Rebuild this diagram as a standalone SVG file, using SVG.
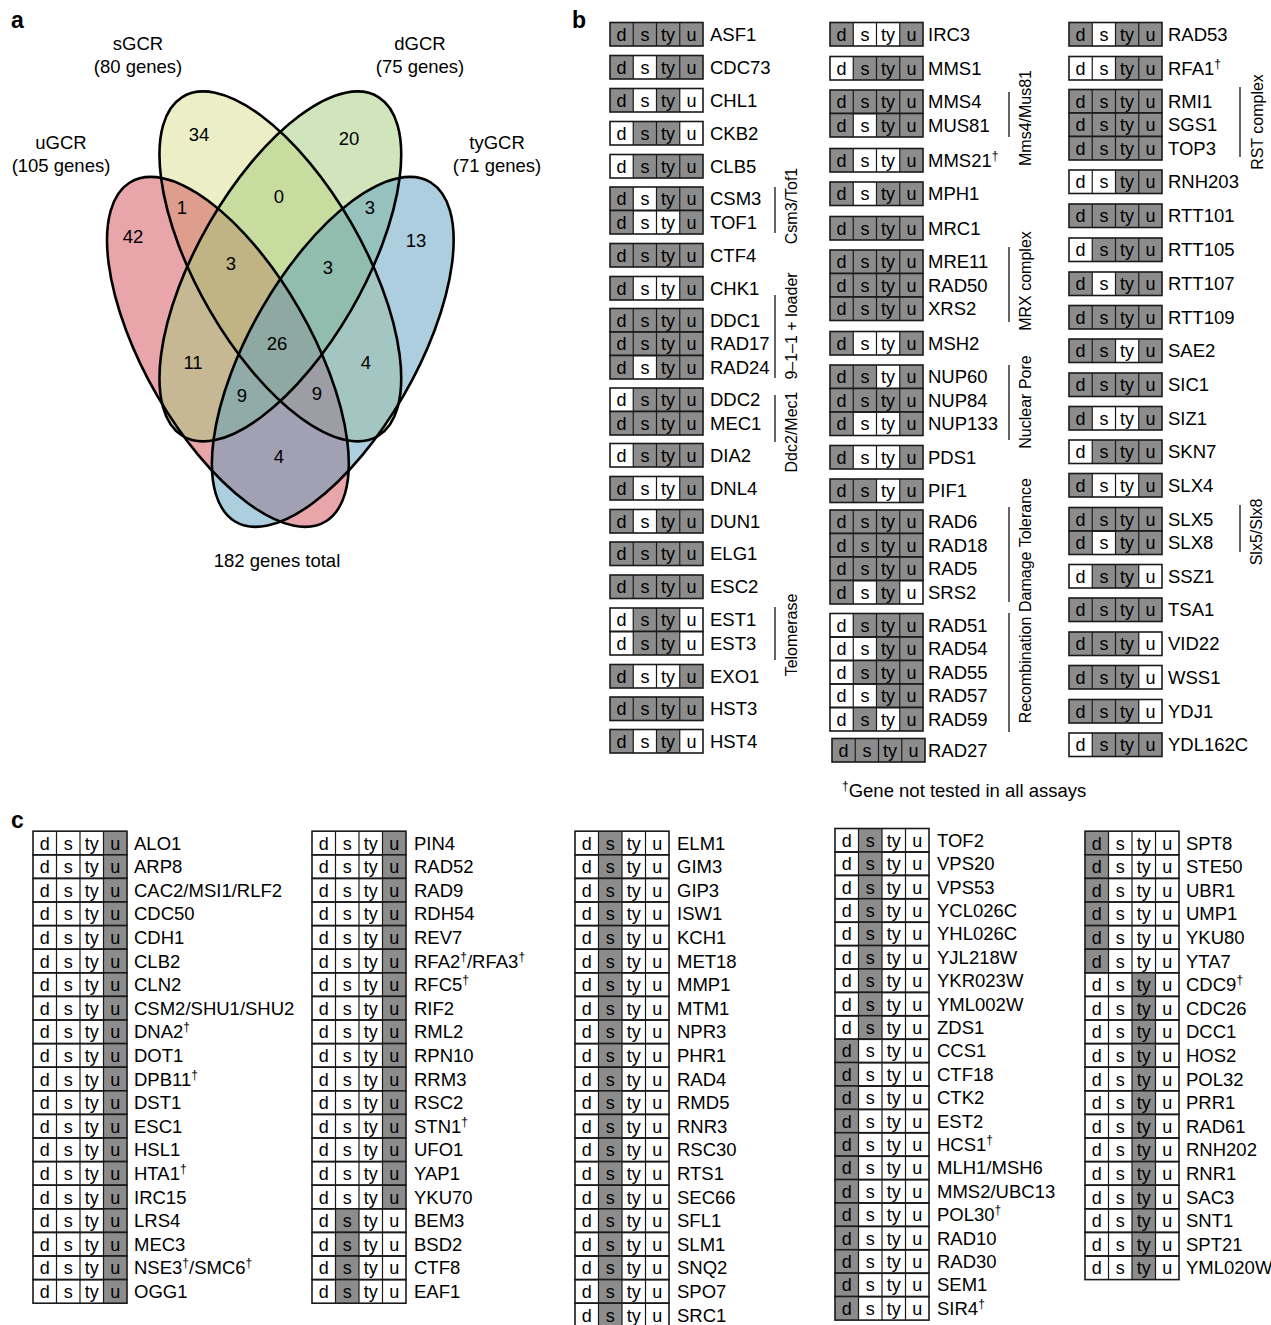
<svg xmlns="http://www.w3.org/2000/svg" xmlns:xlink="http://www.w3.org/1999/xlink" width="1271" height="1325" viewBox="0 0 1271 1325">
<style>
text{font-family:"Liberation Sans",Arial,Helvetica,sans-serif;fill:#000}
.t{font-size:18.5px}
.c{font-size:18px;text-anchor:middle}
.dg{font-size:12px}
.bx{fill:none;stroke:#1a1a1a;stroke-width:1.6}
.ln{stroke:#1a1a1a;stroke-width:1.2;fill:none}
.sh{fill:#8c8c8c}
.br{stroke:#333;stroke-width:1.5;fill:none}
.lab{font-size:16px;text-anchor:middle}
.pl{font-weight:bold;font-size:23px}
.n{text-anchor:middle;font-size:18.5px}
.vo{fill:none;stroke:#000;stroke-width:2.6}
</style>
<defs>
<g id="rb">
<rect class="bx" x="0" y="0" width="93" height="23.5"/>
<path class="ln" d="M23.25 0V23.5M46.5 0V23.5M69.75 0V23.5"/>
<text class="c" x="11.6" y="18.3">d</text><text class="c" x="34.9" y="18.3">s</text><text class="c" x="58.1" y="18.3">ty</text><text class="c" x="81.4" y="18.3">u</text>
</g>
<rect id="b0" class="sh" x="0" y="0" width="23.25" height="23.5"/>
<rect id="b1" class="sh" x="23.25" y="0" width="23.25" height="23.5"/>
<rect id="b2" class="sh" x="46.5" y="0" width="23.25" height="23.5"/>
<rect id="b3" class="sh" x="69.75" y="0" width="23.25" height="23.5"/>
<g id="rc">
<rect class="bx" x="0" y="0" width="94" height="23.6"/>
<path class="ln" d="M23.5 0V23.6M47 0V23.6M70.5 0V23.6"/>
<text class="c" x="11.75" y="18.4">d</text><text class="c" x="35.25" y="18.4">s</text><text class="c" x="58.75" y="18.4">ty</text><text class="c" x="82.25" y="18.4">u</text>
</g>
<rect id="c0" class="sh" x="0" y="0" width="23.5" height="23.6"/>
<rect id="c1" class="sh" x="23.5" y="0" width="23.5" height="23.6"/>
<rect id="c2" class="sh" x="47" y="0" width="23.5" height="23.6"/>
<rect id="c3" class="sh" x="70.5" y="0" width="23.5" height="23.6"/>
</defs>
<rect width="1271" height="1325" fill="#fff"/>

<text class="pl" x="11" y="28">a</text>
<text class="pl" x="572" y="28">b</text>
<text class="pl" x="11" y="828">c</text>

<!-- Panel a: Venn -->
<g id="venn">
<g transform="matrix(1.07 0 0 1.11 0 0)">
<g id="set-sGCR-fill"><ellipse cx="262" cy="240" rx="178" ry="77" transform="rotate(59 262 240)" fill="#D9DF8D" fill-opacity="0.5"/></g>
<g id="set-uGCR-fill"><ellipse cx="213" cy="317" rx="178" ry="77" transform="rotate(59 213 317)" fill="#D14B55" fill-opacity="0.5"/></g>
<g id="set-dGCR-fill"><ellipse cx="262" cy="240" rx="178" ry="77" transform="rotate(-59 262 240)" fill="#A1CB79" fill-opacity="0.5"/></g>
<g id="set-tyGCR-fill"><ellipse cx="311" cy="317" rx="178" ry="77" transform="rotate(-59 311 317)" fill="#5B9DBD" fill-opacity="0.5"/></g>
<g id="outlines">
<ellipse class="vo" vector-effect="non-scaling-stroke" cx="262" cy="240" rx="178" ry="77" transform="rotate(59 262 240)"/>
<ellipse class="vo" vector-effect="non-scaling-stroke" cx="213" cy="317" rx="178" ry="77" transform="rotate(59 213 317)"/>
<ellipse class="vo" vector-effect="non-scaling-stroke" cx="262" cy="240" rx="178" ry="77" transform="rotate(-59 262 240)"/>
<ellipse class="vo" vector-effect="non-scaling-stroke" cx="311" cy="317" rx="178" ry="77" transform="rotate(-59 311 317)"/>
</g>
</g>
<g id="venn-labels">
<text class="n" x="138" y="50">sGCR</text><text class="n" x="138" y="73">(80 genes)</text>
<text class="n" x="420" y="50">dGCR</text><text class="n" x="420" y="73">(75 genes)</text>
<text class="n" x="61" y="149">uGCR</text><text class="n" x="61" y="172">(105 genes)</text>
<text class="n" x="497" y="149">tyGCR</text><text class="n" x="497" y="172">(71 genes)</text>
<text class="n" x="199" y="141">34</text>
<text class="n" x="349" y="145">20</text>
<text class="n" x="133" y="243">42</text>
<text class="n" x="182" y="214">1</text>
<text class="n" x="279" y="203">0</text>
<text class="n" x="370" y="214">3</text>
<text class="n" x="416" y="247">13</text>
<text class="n" x="231" y="270">3</text>
<text class="n" x="328" y="274">3</text>
<text class="n" x="277" y="350">26</text>
<text class="n" x="193" y="369">11</text>
<text class="n" x="366" y="369">4</text>
<text class="n" x="242" y="402">9</text>
<text class="n" x="317" y="400">9</text>
<text class="n" x="279" y="463">4</text>
<text class="n" x="277" y="567">182 genes total</text>
</g>
</g>

<!-- Panel b -->
<g id="panel-b">
<g id="b-col1">
<g id="ASF1" transform="translate(610,22.5)"><use href="#b0"/><use href="#b1"/><use href="#b2"/><use href="#b3"/><use href="#rb"/><text class="t" x="100" y="18.3">ASF1</text></g>
<g id="CDC73" transform="translate(610,55.5)"><use href="#b0"/><use href="#b2"/><use href="#b3"/><use href="#rb"/><text class="t" x="100" y="18.3">CDC73</text></g>
<g id="CHL1" transform="translate(610,88.5)"><use href="#b0"/><use href="#b2"/><use href="#rb"/><text class="t" x="100" y="18.3">CHL1</text></g>
<g id="CKB2" transform="translate(610,121.5)"><use href="#b1"/><use href="#b2"/><use href="#rb"/><text class="t" x="100" y="18.3">CKB2</text></g>
<g id="CLB5" transform="translate(610,154.5)"><use href="#b1"/><use href="#b2"/><use href="#b3"/><use href="#rb"/><text class="t" x="100" y="18.3">CLB5</text></g>
<g id="CSM3" transform="translate(610,187)"><use href="#b0"/><use href="#b2"/><use href="#b3"/><use href="#rb"/><text class="t" x="100" y="18.3">CSM3</text></g>
<g id="TOF1" transform="translate(610,210.5)"><use href="#b0"/><use href="#b3"/><use href="#rb"/><text class="t" x="100" y="18.3">TOF1</text></g>
<g id="CTF4" transform="translate(610,243.5)"><use href="#b0"/><use href="#b1"/><use href="#b2"/><use href="#b3"/><use href="#rb"/><text class="t" x="100" y="18.3">CTF4</text></g>
<g id="CHK1" transform="translate(610,276.5)"><use href="#b0"/><use href="#b3"/><use href="#rb"/><text class="t" x="100" y="18.3">CHK1</text></g>
<g id="DDC1" transform="translate(610,308.5)"><use href="#b0"/><use href="#b1"/><use href="#b2"/><use href="#b3"/><use href="#rb"/><text class="t" x="100" y="18.3">DDC1</text></g>
<g id="RAD17" transform="translate(610,332)"><use href="#b0"/><use href="#b1"/><use href="#b2"/><use href="#b3"/><use href="#rb"/><text class="t" x="100" y="18.3">RAD17</text></g>
<g id="RAD24" transform="translate(610,355.5)"><use href="#b0"/><use href="#b2"/><use href="#b3"/><use href="#rb"/><text class="t" x="100" y="18.3">RAD24</text></g>
<g id="DDC2" transform="translate(610,388)"><use href="#b1"/><use href="#b2"/><use href="#b3"/><use href="#rb"/><text class="t" x="100" y="18.3">DDC2</text></g>
<g id="MEC1" transform="translate(610,411.5)"><use href="#b0"/><use href="#b1"/><use href="#b2"/><use href="#b3"/><use href="#rb"/><text class="t" x="100" y="18.3">MEC1</text></g>
<g id="DIA2" transform="translate(610,443.5)"><use href="#b1"/><use href="#b2"/><use href="#b3"/><use href="#rb"/><text class="t" x="100" y="18.3">DIA2</text></g>
<g id="DNL4" transform="translate(610,476.5)"><use href="#b0"/><use href="#b3"/><use href="#rb"/><text class="t" x="100" y="18.3">DNL4</text></g>
<g id="DUN1" transform="translate(610,509.5)"><use href="#b0"/><use href="#b2"/><use href="#b3"/><use href="#rb"/><text class="t" x="100" y="18.3">DUN1</text></g>
<g id="ELG1" transform="translate(610,542)"><use href="#b0"/><use href="#b1"/><use href="#b2"/><use href="#b3"/><use href="#rb"/><text class="t" x="100" y="18.3">ELG1</text></g>
<g id="ESC2" transform="translate(610,575)"><use href="#b0"/><use href="#b1"/><use href="#b2"/><use href="#b3"/><use href="#rb"/><text class="t" x="100" y="18.3">ESC2</text></g>
<g id="EST1" transform="translate(610,608)"><use href="#b1"/><use href="#b2"/><use href="#rb"/><text class="t" x="100" y="18.3">EST1</text></g>
<g id="EST3" transform="translate(610,631.5)"><use href="#b1"/><use href="#b2"/><use href="#rb"/><text class="t" x="100" y="18.3">EST3</text></g>
<g id="EXO1" transform="translate(610,664.5)"><use href="#b0"/><use href="#b3"/><use href="#rb"/><text class="t" x="100" y="18.3">EXO1</text></g>
<g id="HST3" transform="translate(610,697)"><use href="#b0"/><use href="#b1"/><use href="#b2"/><use href="#b3"/><use href="#rb"/><text class="t" x="100" y="18.3">HST3</text></g>
<g id="HST4" transform="translate(610,729.5)"><use href="#b0"/><use href="#b2"/><use href="#rb"/><text class="t" x="100" y="18.3">HST4</text></g>
</g>
<g id="b-col2">
<g id="IRC3" transform="translate(830,22.5)"><use href="#b0"/><use href="#b3"/><use href="#rb"/><text class="t" x="98" y="18.3">IRC3</text></g>
<g id="MMS1" transform="translate(830,56.5)"><use href="#b1"/><use href="#b2"/><use href="#b3"/><use href="#rb"/><text class="t" x="98" y="18.3">MMS1</text></g>
<g id="MMS4" transform="translate(830,90)"><use href="#b0"/><use href="#b1"/><use href="#b2"/><use href="#b3"/><use href="#rb"/><text class="t" x="98" y="18.3">MMS4</text></g>
<g id="MUS81" transform="translate(830,113.5)"><use href="#b0"/><use href="#b2"/><use href="#b3"/><use href="#rb"/><text class="t" x="98" y="18.3">MUS81</text></g>
<g id="MMS21" transform="translate(830,148.5)"><use href="#b0"/><use href="#b3"/><use href="#rb"/><text class="t" x="98" y="18.3">MMS21<tspan class="dg" dy="-7">†</tspan></text></g>
<g id="MPH1" transform="translate(830,182)"><use href="#b0"/><use href="#b2"/><use href="#b3"/><use href="#rb"/><text class="t" x="98" y="18.3">MPH1</text></g>
<g id="MRC1" transform="translate(830,216.5)"><use href="#b0"/><use href="#b1"/><use href="#b2"/><use href="#b3"/><use href="#rb"/><text class="t" x="98" y="18.3">MRC1</text></g>
<g id="MRE11" transform="translate(830,250)"><use href="#b0"/><use href="#b1"/><use href="#b2"/><use href="#b3"/><use href="#rb"/><text class="t" x="98" y="18.3">MRE11</text></g>
<g id="RAD50" transform="translate(830,273.5)"><use href="#b0"/><use href="#b1"/><use href="#b2"/><use href="#b3"/><use href="#rb"/><text class="t" x="98" y="18.3">RAD50</text></g>
<g id="XRS2" transform="translate(830,297)"><use href="#b0"/><use href="#b1"/><use href="#b2"/><use href="#b3"/><use href="#rb"/><text class="t" x="98" y="18.3">XRS2</text></g>
<g id="MSH2" transform="translate(830,331.5)"><use href="#b0"/><use href="#b3"/><use href="#rb"/><text class="t" x="98" y="18.3">MSH2</text></g>
<g id="NUP60" transform="translate(830,365)"><use href="#b0"/><use href="#b1"/><use href="#b3"/><use href="#rb"/><text class="t" x="98" y="18.3">NUP60</text></g>
<g id="NUP84" transform="translate(830,388.5)"><use href="#b0"/><use href="#b1"/><use href="#b2"/><use href="#b3"/><use href="#rb"/><text class="t" x="98" y="18.3">NUP84</text></g>
<g id="NUP133" transform="translate(830,412)"><use href="#b0"/><use href="#b3"/><use href="#rb"/><text class="t" x="98" y="18.3">NUP133</text></g>
<g id="PDS1" transform="translate(830,445.5)"><use href="#b0"/><use href="#b3"/><use href="#rb"/><text class="t" x="98" y="18.3">PDS1</text></g>
<g id="PIF1" transform="translate(830,479)"><use href="#b0"/><use href="#b1"/><use href="#b3"/><use href="#rb"/><text class="t" x="98" y="18.3">PIF1</text></g>
<g id="RAD6" transform="translate(830,510)"><use href="#b0"/><use href="#b1"/><use href="#b2"/><use href="#b3"/><use href="#rb"/><text class="t" x="98" y="18.3">RAD6</text></g>
<g id="RAD18" transform="translate(830,533.5)"><use href="#b0"/><use href="#b1"/><use href="#b2"/><use href="#b3"/><use href="#rb"/><text class="t" x="98" y="18.3">RAD18</text></g>
<g id="RAD5" transform="translate(830,557)"><use href="#b0"/><use href="#b1"/><use href="#b2"/><use href="#b3"/><use href="#rb"/><text class="t" x="98" y="18.3">RAD5</text></g>
<g id="SRS2" transform="translate(830,580.5)"><use href="#b0"/><use href="#b2"/><use href="#rb"/><text class="t" x="98" y="18.3">SRS2</text></g>
<g id="RAD51" transform="translate(830,613.5)"><use href="#b1"/><use href="#b2"/><use href="#b3"/><use href="#rb"/><text class="t" x="98" y="18.3">RAD51</text></g>
<g id="RAD54" transform="translate(830,637)"><use href="#b2"/><use href="#b3"/><use href="#rb"/><text class="t" x="98" y="18.3">RAD54</text></g>
<g id="RAD55" transform="translate(830,660.5)"><use href="#b1"/><use href="#b2"/><use href="#b3"/><use href="#rb"/><text class="t" x="98" y="18.3">RAD55</text></g>
<g id="RAD57" transform="translate(830,684)"><use href="#b2"/><use href="#b3"/><use href="#rb"/><text class="t" x="98" y="18.3">RAD57</text></g>
<g id="RAD59" transform="translate(830,707.5)"><use href="#b1"/><use href="#b3"/><use href="#rb"/><text class="t" x="98" y="18.3">RAD59</text></g>
<g id="RAD27" transform="translate(832,738.5)"><use href="#b0"/><use href="#b1"/><use href="#b2"/><use href="#b3"/><use href="#rb"/><text class="t" x="96" y="18.3">RAD27</text></g>
</g>
<g id="b-col3">
<g id="RAD53" transform="translate(1069,22.5)"><use href="#b0"/><use href="#b2"/><use href="#b3"/><use href="#rb"/><text class="t" x="99" y="18.3">RAD53</text></g>
<g id="RFA1" transform="translate(1069,56.5)"><use href="#b2"/><use href="#b3"/><use href="#rb"/><text class="t" x="99" y="18.3">RFA1<tspan class="dg" dy="-7">†</tspan></text></g>
<g id="RMI1" transform="translate(1069,89.5)"><use href="#b0"/><use href="#b1"/><use href="#b2"/><use href="#b3"/><use href="#rb"/><text class="t" x="99" y="18.3">RMI1</text></g>
<g id="SGS1" transform="translate(1069,113)"><use href="#b0"/><use href="#b1"/><use href="#b2"/><use href="#b3"/><use href="#rb"/><text class="t" x="99" y="18.3">SGS1</text></g>
<g id="TOP3" transform="translate(1069,136.5)"><use href="#b0"/><use href="#b1"/><use href="#b2"/><use href="#b3"/><use href="#rb"/><text class="t" x="99" y="18.3">TOP3</text></g>
<g id="RNH203" transform="translate(1069,170)"><use href="#b2"/><use href="#b3"/><use href="#rb"/><text class="t" x="99" y="18.3">RNH203</text></g>
<g id="RTT101" transform="translate(1069,204)"><use href="#b0"/><use href="#b1"/><use href="#b2"/><use href="#b3"/><use href="#rb"/><text class="t" x="99" y="18.3">RTT101</text></g>
<g id="RTT105" transform="translate(1069,238)"><use href="#b1"/><use href="#b2"/><use href="#b3"/><use href="#rb"/><text class="t" x="99" y="18.3">RTT105</text></g>
<g id="RTT107" transform="translate(1069,272)"><use href="#b0"/><use href="#b2"/><use href="#b3"/><use href="#rb"/><text class="t" x="99" y="18.3">RTT107</text></g>
<g id="RTT109" transform="translate(1069,305.5)"><use href="#b0"/><use href="#b1"/><use href="#b2"/><use href="#b3"/><use href="#rb"/><text class="t" x="99" y="18.3">RTT109</text></g>
<g id="SAE2" transform="translate(1069,339)"><use href="#b0"/><use href="#b1"/><use href="#b3"/><use href="#rb"/><text class="t" x="99" y="18.3">SAE2</text></g>
<g id="SIC1" transform="translate(1069,373)"><use href="#b0"/><use href="#b1"/><use href="#b2"/><use href="#b3"/><use href="#rb"/><text class="t" x="99" y="18.3">SIC1</text></g>
<g id="SIZ1" transform="translate(1069,406.5)"><use href="#b0"/><use href="#b3"/><use href="#rb"/><text class="t" x="99" y="18.3">SIZ1</text></g>
<g id="SKN7" transform="translate(1069,440)"><use href="#b1"/><use href="#b2"/><use href="#b3"/><use href="#rb"/><text class="t" x="99" y="18.3">SKN7</text></g>
<g id="SLX4" transform="translate(1069,473.5)"><use href="#b0"/><use href="#b3"/><use href="#rb"/><text class="t" x="99" y="18.3">SLX4</text></g>
<g id="SLX5" transform="translate(1069,507.5)"><use href="#b0"/><use href="#b1"/><use href="#b2"/><use href="#b3"/><use href="#rb"/><text class="t" x="99" y="18.3">SLX5</text></g>
<g id="SLX8" transform="translate(1069,531)"><use href="#b0"/><use href="#b2"/><use href="#b3"/><use href="#rb"/><text class="t" x="99" y="18.3">SLX8</text></g>
<g id="SSZ1" transform="translate(1069,564.5)"><use href="#b1"/><use href="#b2"/><use href="#rb"/><text class="t" x="99" y="18.3">SSZ1</text></g>
<g id="TSA1" transform="translate(1069,598)"><use href="#b0"/><use href="#b1"/><use href="#b2"/><use href="#b3"/><use href="#rb"/><text class="t" x="99" y="18.3">TSA1</text></g>
<g id="VID22" transform="translate(1069,632)"><use href="#b0"/><use href="#b1"/><use href="#b2"/><use href="#rb"/><text class="t" x="99" y="18.3">VID22</text></g>
<g id="WSS1" transform="translate(1069,665.5)"><use href="#b0"/><use href="#b1"/><use href="#b2"/><use href="#rb"/><text class="t" x="99" y="18.3">WSS1</text></g>
<g id="YDJ1" transform="translate(1069,699.5)"><use href="#b0"/><use href="#b1"/><use href="#b2"/><use href="#rb"/><text class="t" x="99" y="18.3">YDJ1</text></g>
<g id="YDL162C" transform="translate(1069,733)"><use href="#b1"/><use href="#b2"/><use href="#b3"/><use href="#rb"/><text class="t" x="99" y="18.3">YDL162C</text></g>
</g>
<g id="brackets">
<path class="br" d="M775 187V233M775 295V378M775 395V442M775 607V660M1009 92V137M1009 247V322M1009 365V440M1009 507V602M1009 613V732M1240 87V157M1240 505V552"/>
<text class="lab" transform="translate(797,206) rotate(-90)">Csm3/Tof1</text>
<text class="lab" transform="translate(797,326) rotate(-90)">9–1–1 + loader</text>
<text class="lab" transform="translate(797,432) rotate(-90)">Ddc2/Mec1</text>
<text class="lab" transform="translate(797,635) rotate(-90)">Telomerase</text>
<text class="lab" transform="translate(1031,118) rotate(-90)">Mms4/Mus81</text>
<text class="lab" transform="translate(1031,281) rotate(-90)">MRX complex</text>
<text class="lab" transform="translate(1031,402) rotate(-90)">Nuclear Pore</text>
<text class="lab" transform="translate(1031,545) rotate(-90)">Damage Tolerance</text>
<text class="lab" transform="translate(1031,670) rotate(-90)">Recombination</text>
<text class="lab" transform="translate(1263,122) rotate(-90)">RST complex</text>
<text class="lab" transform="translate(1262,532) rotate(-90)">Slx5/Slx8</text>
</g>
<text class="t" x="842" y="797"><tspan class="dg" dy="-7">†</tspan><tspan dy="7">Gene not tested in all assays</tspan></text>
</g>

<!-- Panel c -->
<g id="panel-c">
<g id="c-col1">
<g id="ALO1" transform="translate(33,831.2)"><use href="#c3"/><use href="#rc"/><text class="t" x="101" y="18.4">ALO1</text></g>
<g id="ARP8" transform="translate(33,854.8)"><use href="#c3"/><use href="#rc"/><text class="t" x="101" y="18.4">ARP8</text></g>
<g id="CAC2" transform="translate(33,878.4)"><use href="#c3"/><use href="#rc"/><text class="t" x="101" y="18.4">CAC2/MSI1/RLF2</text></g>
<g id="CDC50" transform="translate(33,902)"><use href="#c3"/><use href="#rc"/><text class="t" x="101" y="18.4">CDC50</text></g>
<g id="CDH1" transform="translate(33,925.6)"><use href="#c3"/><use href="#rc"/><text class="t" x="101" y="18.4">CDH1</text></g>
<g id="CLB2" transform="translate(33,949.2)"><use href="#c3"/><use href="#rc"/><text class="t" x="101" y="18.4">CLB2</text></g>
<g id="CLN2" transform="translate(33,972.8)"><use href="#c3"/><use href="#rc"/><text class="t" x="101" y="18.4">CLN2</text></g>
<g id="CSM2" transform="translate(33,996.4)"><use href="#c3"/><use href="#rc"/><text class="t" x="101" y="18.4">CSM2/SHU1/SHU2</text></g>
<g id="DNA2" transform="translate(33,1020)"><use href="#c3"/><use href="#rc"/><text class="t" x="101" y="18.4">DNA2<tspan class="dg" dy="-7">†</tspan></text></g>
<g id="DOT1" transform="translate(33,1043.6)"><use href="#c3"/><use href="#rc"/><text class="t" x="101" y="18.4">DOT1</text></g>
<g id="DPB11" transform="translate(33,1067.2)"><use href="#c3"/><use href="#rc"/><text class="t" x="101" y="18.4">DPB11<tspan class="dg" dy="-7">†</tspan></text></g>
<g id="DST1" transform="translate(33,1090.8)"><use href="#c3"/><use href="#rc"/><text class="t" x="101" y="18.4">DST1</text></g>
<g id="ESC1" transform="translate(33,1114.4)"><use href="#c3"/><use href="#rc"/><text class="t" x="101" y="18.4">ESC1</text></g>
<g id="HSL1" transform="translate(33,1138)"><use href="#c3"/><use href="#rc"/><text class="t" x="101" y="18.4">HSL1</text></g>
<g id="HTA1" transform="translate(33,1161.6)"><use href="#c3"/><use href="#rc"/><text class="t" x="101" y="18.4">HTA1<tspan class="dg" dy="-7">†</tspan></text></g>
<g id="IRC15" transform="translate(33,1185.2)"><use href="#c3"/><use href="#rc"/><text class="t" x="101" y="18.4">IRC15</text></g>
<g id="LRS4" transform="translate(33,1208.8)"><use href="#c3"/><use href="#rc"/><text class="t" x="101" y="18.4">LRS4</text></g>
<g id="MEC3" transform="translate(33,1232.4)"><use href="#c3"/><use href="#rc"/><text class="t" x="101" y="18.4">MEC3</text></g>
<g id="NSE3" transform="translate(33,1256)"><use href="#c3"/><use href="#rc"/><text class="t" x="101" y="18.4">NSE3<tspan class="dg" dy="-7">†</tspan><tspan dy="7">/SMC6</tspan><tspan class="dg" dy="-7">†</tspan></text></g>
<g id="OGG1" transform="translate(33,1279.6)"><use href="#c3"/><use href="#rc"/><text class="t" x="101" y="18.4">OGG1</text></g>
</g>
<g id="c-col2">
<g id="PIN4" transform="translate(312,831.2)"><use href="#c3"/><use href="#rc"/><text class="t" x="102" y="18.4">PIN4</text></g>
<g id="RAD52" transform="translate(312,854.8)"><use href="#c3"/><use href="#rc"/><text class="t" x="102" y="18.4">RAD52</text></g>
<g id="RAD9" transform="translate(312,878.4)"><use href="#c3"/><use href="#rc"/><text class="t" x="102" y="18.4">RAD9</text></g>
<g id="RDH54" transform="translate(312,902)"><use href="#c3"/><use href="#rc"/><text class="t" x="102" y="18.4">RDH54</text></g>
<g id="REV7" transform="translate(312,925.6)"><use href="#c3"/><use href="#rc"/><text class="t" x="102" y="18.4">REV7</text></g>
<g id="RFA2" transform="translate(312,949.2)"><use href="#c3"/><use href="#rc"/><text class="t" x="102" y="18.4">RFA2<tspan class="dg" dy="-7">†</tspan><tspan dy="7">/RFA3</tspan><tspan class="dg" dy="-7">†</tspan></text></g>
<g id="RFC5" transform="translate(312,972.8)"><use href="#c3"/><use href="#rc"/><text class="t" x="102" y="18.4">RFC5<tspan class="dg" dy="-7">†</tspan></text></g>
<g id="RIF2" transform="translate(312,996.4)"><use href="#c3"/><use href="#rc"/><text class="t" x="102" y="18.4">RIF2</text></g>
<g id="RML2" transform="translate(312,1020)"><use href="#c3"/><use href="#rc"/><text class="t" x="102" y="18.4">RML2</text></g>
<g id="RPN10" transform="translate(312,1043.6)"><use href="#c3"/><use href="#rc"/><text class="t" x="102" y="18.4">RPN10</text></g>
<g id="RRM3" transform="translate(312,1067.2)"><use href="#c3"/><use href="#rc"/><text class="t" x="102" y="18.4">RRM3</text></g>
<g id="RSC2" transform="translate(312,1090.8)"><use href="#c3"/><use href="#rc"/><text class="t" x="102" y="18.4">RSC2</text></g>
<g id="STN1" transform="translate(312,1114.4)"><use href="#c3"/><use href="#rc"/><text class="t" x="102" y="18.4">STN1<tspan class="dg" dy="-7">†</tspan></text></g>
<g id="UFO1" transform="translate(312,1138)"><use href="#c3"/><use href="#rc"/><text class="t" x="102" y="18.4">UFO1</text></g>
<g id="YAP1" transform="translate(312,1161.6)"><use href="#c3"/><use href="#rc"/><text class="t" x="102" y="18.4">YAP1</text></g>
<g id="YKU70" transform="translate(312,1185.2)"><use href="#c3"/><use href="#rc"/><text class="t" x="102" y="18.4">YKU70</text></g>
<g id="BEM3" transform="translate(312,1208.8)"><use href="#c1"/><use href="#rc"/><text class="t" x="102" y="18.4">BEM3</text></g>
<g id="BSD2" transform="translate(312,1232.4)"><use href="#c1"/><use href="#rc"/><text class="t" x="102" y="18.4">BSD2</text></g>
<g id="CTF8" transform="translate(312,1256)"><use href="#c1"/><use href="#rc"/><text class="t" x="102" y="18.4">CTF8</text></g>
<g id="EAF1" transform="translate(312,1279.6)"><use href="#c1"/><use href="#rc"/><text class="t" x="102" y="18.4">EAF1</text></g>
</g>
<g id="c-col3">
<g id="ELM1" transform="translate(575,831.2)"><use href="#c1"/><use href="#rc"/><text class="t" x="102" y="18.4">ELM1</text></g>
<g id="GIM3" transform="translate(575,854.8)"><use href="#c1"/><use href="#rc"/><text class="t" x="102" y="18.4">GIM3</text></g>
<g id="GIP3" transform="translate(575,878.4)"><use href="#c1"/><use href="#rc"/><text class="t" x="102" y="18.4">GIP3</text></g>
<g id="ISW1" transform="translate(575,902)"><use href="#c1"/><use href="#rc"/><text class="t" x="102" y="18.4">ISW1</text></g>
<g id="KCH1" transform="translate(575,925.6)"><use href="#c1"/><use href="#rc"/><text class="t" x="102" y="18.4">KCH1</text></g>
<g id="MET18" transform="translate(575,949.2)"><use href="#c1"/><use href="#rc"/><text class="t" x="102" y="18.4">MET18</text></g>
<g id="MMP1" transform="translate(575,972.8)"><use href="#c1"/><use href="#rc"/><text class="t" x="102" y="18.4">MMP1</text></g>
<g id="MTM1" transform="translate(575,996.4)"><use href="#c1"/><use href="#rc"/><text class="t" x="102" y="18.4">MTM1</text></g>
<g id="NPR3" transform="translate(575,1020)"><use href="#c1"/><use href="#rc"/><text class="t" x="102" y="18.4">NPR3</text></g>
<g id="PHR1" transform="translate(575,1043.6)"><use href="#c1"/><use href="#rc"/><text class="t" x="102" y="18.4">PHR1</text></g>
<g id="RAD4" transform="translate(575,1067.2)"><use href="#c1"/><use href="#rc"/><text class="t" x="102" y="18.4">RAD4</text></g>
<g id="RMD5" transform="translate(575,1090.8)"><use href="#c1"/><use href="#rc"/><text class="t" x="102" y="18.4">RMD5</text></g>
<g id="RNR3" transform="translate(575,1114.4)"><use href="#c1"/><use href="#rc"/><text class="t" x="102" y="18.4">RNR3</text></g>
<g id="RSC30" transform="translate(575,1138)"><use href="#c1"/><use href="#rc"/><text class="t" x="102" y="18.4">RSC30</text></g>
<g id="RTS1" transform="translate(575,1161.6)"><use href="#c1"/><use href="#rc"/><text class="t" x="102" y="18.4">RTS1</text></g>
<g id="SEC66" transform="translate(575,1185.2)"><use href="#c1"/><use href="#rc"/><text class="t" x="102" y="18.4">SEC66</text></g>
<g id="SFL1" transform="translate(575,1208.8)"><use href="#c1"/><use href="#rc"/><text class="t" x="102" y="18.4">SFL1</text></g>
<g id="SLM1" transform="translate(575,1232.4)"><use href="#c1"/><use href="#rc"/><text class="t" x="102" y="18.4">SLM1</text></g>
<g id="SNQ2" transform="translate(575,1256)"><use href="#c1"/><use href="#rc"/><text class="t" x="102" y="18.4">SNQ2</text></g>
<g id="SPO7" transform="translate(575,1279.6)"><use href="#c1"/><use href="#rc"/><text class="t" x="102" y="18.4">SPO7</text></g>
<g id="SRC1" transform="translate(575,1303.2)"><use href="#c1"/><use href="#rc"/><text class="t" x="102" y="18.4">SRC1</text></g>
</g>
<g id="c-col4">
<g id="TOF2" transform="translate(835,828.5)"><use href="#c1"/><use href="#rc"/><text class="t" x="102" y="18.4">TOF2</text></g>
<g id="VPS20" transform="translate(835,851.9)"><use href="#c1"/><use href="#rc"/><text class="t" x="102" y="18.4">VPS20</text></g>
<g id="VPS53" transform="translate(835,875.3)"><use href="#c1"/><use href="#rc"/><text class="t" x="102" y="18.4">VPS53</text></g>
<g id="YCL026C" transform="translate(835,898.7)"><use href="#c1"/><use href="#rc"/><text class="t" x="102" y="18.4">YCL026C</text></g>
<g id="YHL026C" transform="translate(835,922.1)"><use href="#c1"/><use href="#rc"/><text class="t" x="102" y="18.4">YHL026C</text></g>
<g id="YJL218W" transform="translate(835,945.5)"><use href="#c1"/><use href="#rc"/><text class="t" x="102" y="18.4">YJL218W</text></g>
<g id="YKR023W" transform="translate(835,968.9)"><use href="#c1"/><use href="#rc"/><text class="t" x="102" y="18.4">YKR023W</text></g>
<g id="YML002W" transform="translate(835,992.3)"><use href="#c1"/><use href="#rc"/><text class="t" x="102" y="18.4">YML002W</text></g>
<g id="ZDS1" transform="translate(835,1015.7)"><use href="#c1"/><use href="#rc"/><text class="t" x="102" y="18.4">ZDS1</text></g>
<g id="CCS1" transform="translate(835,1039.1)"><use href="#c0"/><use href="#rc"/><text class="t" x="102" y="18.4">CCS1</text></g>
<g id="CTF18" transform="translate(835,1062.5)"><use href="#c0"/><use href="#rc"/><text class="t" x="102" y="18.4">CTF18</text></g>
<g id="CTK2" transform="translate(835,1085.9)"><use href="#c0"/><use href="#rc"/><text class="t" x="102" y="18.4">CTK2</text></g>
<g id="EST2" transform="translate(835,1109.3)"><use href="#c0"/><use href="#rc"/><text class="t" x="102" y="18.4">EST2</text></g>
<g id="HCS1" transform="translate(835,1132.7)"><use href="#c0"/><use href="#rc"/><text class="t" x="102" y="18.4">HCS1<tspan class="dg" dy="-7">†</tspan></text></g>
<g id="MLH1" transform="translate(835,1156.1)"><use href="#c0"/><use href="#rc"/><text class="t" x="102" y="18.4">MLH1/MSH6</text></g>
<g id="MMS2" transform="translate(835,1179.5)"><use href="#c0"/><use href="#rc"/><text class="t" x="102" y="18.4">MMS2/UBC13</text></g>
<g id="POL30" transform="translate(835,1202.9)"><use href="#c0"/><use href="#rc"/><text class="t" x="102" y="18.4">POL30<tspan class="dg" dy="-7">†</tspan></text></g>
<g id="RAD10" transform="translate(835,1226.3)"><use href="#c0"/><use href="#rc"/><text class="t" x="102" y="18.4">RAD10</text></g>
<g id="RAD30" transform="translate(835,1249.7)"><use href="#c0"/><use href="#rc"/><text class="t" x="102" y="18.4">RAD30</text></g>
<g id="SEM1" transform="translate(835,1273.1)"><use href="#c0"/><use href="#rc"/><text class="t" x="102" y="18.4">SEM1</text></g>
<g id="SIR4" transform="translate(835,1296.5)"><use href="#c0"/><use href="#rc"/><text class="t" x="102" y="18.4">SIR4<tspan class="dg" dy="-7">†</tspan></text></g>
</g>
<g id="c-col5">
<g id="SPT8" transform="translate(1085,831.2)"><use href="#c0"/><use href="#rc"/><text class="t" x="101" y="18.4">SPT8</text></g>
<g id="STE50" transform="translate(1085,854.8)"><use href="#c0"/><use href="#rc"/><text class="t" x="101" y="18.4">STE50</text></g>
<g id="UBR1" transform="translate(1085,878.4)"><use href="#c0"/><use href="#rc"/><text class="t" x="101" y="18.4">UBR1</text></g>
<g id="UMP1" transform="translate(1085,902)"><use href="#c0"/><use href="#rc"/><text class="t" x="101" y="18.4">UMP1</text></g>
<g id="YKU80" transform="translate(1085,925.6)"><use href="#c0"/><use href="#rc"/><text class="t" x="101" y="18.4">YKU80</text></g>
<g id="YTA7" transform="translate(1085,949.2)"><use href="#c0"/><use href="#rc"/><text class="t" x="101" y="18.4">YTA7</text></g>
<g id="CDC9" transform="translate(1085,972.8)"><use href="#c2"/><use href="#rc"/><text class="t" x="101" y="18.4">CDC9<tspan class="dg" dy="-7">†</tspan></text></g>
<g id="CDC26" transform="translate(1085,996.4)"><use href="#c2"/><use href="#rc"/><text class="t" x="101" y="18.4">CDC26</text></g>
<g id="DCC1" transform="translate(1085,1020)"><use href="#c2"/><use href="#rc"/><text class="t" x="101" y="18.4">DCC1</text></g>
<g id="HOS2" transform="translate(1085,1043.6)"><use href="#c2"/><use href="#rc"/><text class="t" x="101" y="18.4">HOS2</text></g>
<g id="POL32" transform="translate(1085,1067.2)"><use href="#c2"/><use href="#rc"/><text class="t" x="101" y="18.4">POL32</text></g>
<g id="PRR1" transform="translate(1085,1090.8)"><use href="#c2"/><use href="#rc"/><text class="t" x="101" y="18.4">PRR1</text></g>
<g id="RAD61" transform="translate(1085,1114.4)"><use href="#c2"/><use href="#rc"/><text class="t" x="101" y="18.4">RAD61</text></g>
<g id="RNH202" transform="translate(1085,1138)"><use href="#c2"/><use href="#rc"/><text class="t" x="101" y="18.4">RNH202</text></g>
<g id="RNR1" transform="translate(1085,1161.6)"><use href="#c2"/><use href="#rc"/><text class="t" x="101" y="18.4">RNR1</text></g>
<g id="SAC3" transform="translate(1085,1185.2)"><use href="#c2"/><use href="#rc"/><text class="t" x="101" y="18.4">SAC3</text></g>
<g id="SNT1" transform="translate(1085,1208.8)"><use href="#c2"/><use href="#rc"/><text class="t" x="101" y="18.4">SNT1</text></g>
<g id="SPT21" transform="translate(1085,1232.4)"><use href="#c2"/><use href="#rc"/><text class="t" x="101" y="18.4">SPT21</text></g>
<g id="YML020W" transform="translate(1085,1256)"><use href="#c2"/><use href="#rc"/><text class="t" x="101" y="18.4">YML020W</text></g>
</g>
</g>
</svg>
